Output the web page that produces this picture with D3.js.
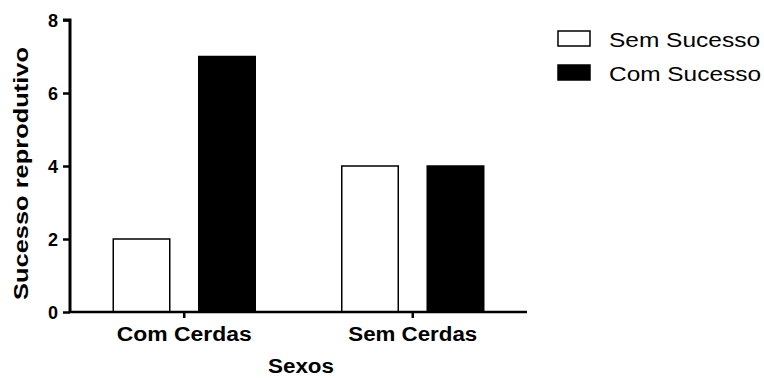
<!DOCTYPE html>
<html><head><meta charset="utf-8">
<script src="https://cdn.jsdelivr.net/npm/d3@7"></script>
<style>
html,body{margin:0;padding:0;background:#fff;}
text{font-family:"Liberation Sans",Arial,sans-serif;}
</style></head>
<body><svg id="c" width="764" height="378"></svg>
<script>
const categories = ["Com Cerdas", "Sem Cerdas"];
const seriesNames = ["Sem Sucesso", "Com Sucesso"];
const semSucesso = [2, 4];
const comSucesso = [7, 4];
const yTicks = [0, 2, 4, 6, 8];
const xTitle = "Sexos";
const yTitle = "Sucesso reprodutivo";
const colors = ["#ffffff", "#000000"];

const svg = d3.select("#c");
const x0 = d3.scaleBand().domain(categories).range([70, 527]).padding(0);
const x1 = d3.scaleBand().domain(seriesNames).range([0, x0.bandwidth()]).paddingInner(0.339).paddingOuter(0.506);
const y = d3.scaleLinear().domain([0, 8]).range([312, 20]);

const values = [semSucesso, comSucesso];
const rows = [];
categories.forEach((c, i) => seriesNames.forEach((s, j) => rows.push({c, s, j, v: values[j][i]})));

svg.append("g").selectAll("rect").data(rows).join("rect")
  .attr("x", d => x0(d.c) + x1(d.s))
  .attr("y", d => y(d.v))
  .attr("width", x1.bandwidth())
  .attr("height", d => y(0) - y(d.v))
  .attr("fill", d => colors[d.j])
  .attr("stroke", "#000").attr("stroke-width", 1.5);

// y axis
const ya = svg.append("g").attr("transform", "translate(70,0)")
  .call(d3.axisLeft(y).tickValues(yTicks).tickSize(7).tickPadding(5).tickFormat(d3.format("d")));
ya.select(".domain").attr("stroke-width", 3).attr("d", `M-7,${y(8)}H0V${y(0)}`);
ya.selectAll(".tick line").attr("stroke-width", 2.5);
ya.selectAll(".tick text").attr("font-size", 18).attr("font-weight", "bold").attr("fill", "#000")
  .attr("font-family", "Liberation Sans, Arial, sans-serif").attr("dy", "0.36em");

// x axis
const xa = svg.append("g").attr("transform", `translate(0,${y(0)})`)
  .call(d3.axisBottom(x0).tickSize(6).tickPadding(0));
xa.select(".domain").attr("stroke-width", 2.7).attr("d", "M70,0H527");
xa.selectAll(".tick line").attr("stroke-width", 2.5);
xa.selectAll(".tick text").attr("font-size", 20).attr("font-weight", "bold").attr("fill", "#000")
  .attr("font-family", "Liberation Sans, Arial, sans-serif")
  .attr("y", 29).attr("dy", 0)
  .attr("textLength", (d, i) => [135, 129][i]).attr("lengthAdjust", "spacingAndGlyphs");

// axis titles
svg.append("text").text(xTitle).attr("x", 301).attr("y", 373).attr("text-anchor", "middle")
  .attr("font-size", 20).attr("font-weight", "bold")
  .attr("textLength", 66).attr("lengthAdjust", "spacingAndGlyphs");
svg.append("text").text(yTitle)
  .attr("transform", "translate(28,173.5) rotate(-90)").attr("text-anchor", "middle")
  .attr("font-size", 20.5).attr("font-weight", "bold")
  .attr("textLength", 253).attr("lengthAdjust", "spacingAndGlyphs");

// legend
const lg = svg.append("g").selectAll("g").data(seriesNames).join("g")
  .attr("transform", (d, i) => `translate(558,${31 + i * 34})`);
lg.append("rect").attr("width", 32).attr("height", 15)
  .attr("fill", (d, i) => colors[i]).attr("stroke", "#000").attr("stroke-width", 1.5);
lg.append("text").text(d => d).attr("x", 51).attr("y", 16).attr("font-size", 20)
  .attr("textLength", (d, i) => [151, 152][i]).attr("lengthAdjust", "spacingAndGlyphs");
</script></body></html>
